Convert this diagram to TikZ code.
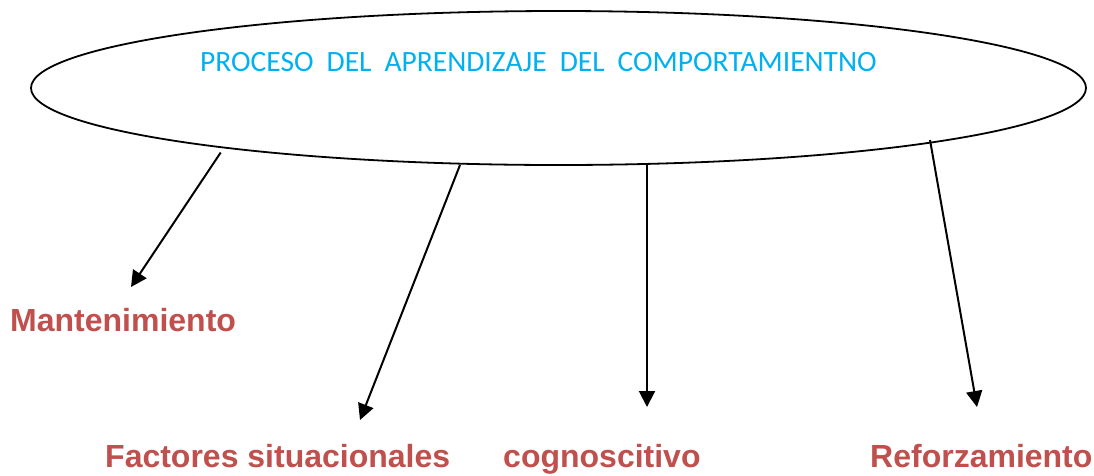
\documentclass[tikz,border=0pt]{standalone}
\usepackage{fontspec}
\setmainfont{Liberation Sans}
\newfontfamily\calib{Carlito}
\usetikzlibrary{shapes.geometric,arrows.meta}
\definecolor{titleblue}{HTML}{00B0F0}
\definecolor{labred}{HTML}{C0504D}
\begin{document}
\begin{tikzpicture}[x=1pt,y=-1pt,
 lab/.style={anchor=base west,inner sep=0,text=labred,font=\fontsize{32}{32}\selectfont\bfseries},
 arr/.style={line width=2pt,-{Triangle[length=16pt,width=16pt]}},
]
\useasboundingbox (0,0) rectangle (1094,475);
\node[ellipse,draw,line width=1.8pt,minimum width=1055pt,minimum height=154pt,inner sep=0] (main) at (558.5,88) {};
\node[anchor=base west,inner sep=0,text=titleblue,font=\calib\fontsize{29.5}{29.5}\selectfont] (title) at (200,71) {PROCESO\hspace{13pt}DEL\hspace{13pt}APRENDIZAJE\hspace{13pt}DEL\hspace{13pt}COMPORTAMIENTNO};
\coordinate (s1) at (220.7,152.5);
\coordinate (t1) at (131,287);
\coordinate (s2) at (460,165);
\coordinate (t2) at (360,420);
\coordinate (s3) at (647,165);
\coordinate (t3) at (647,407);
\coordinate (s4) at (930,140);
\coordinate (t4) at (977,407);
\node[lab] (l1) at (10,331) {Mantenimiento};
\node[lab] (l2) at (105,467) {Factores situacionales};
\node[lab] (l3) at (503,467) {cognoscitivo};
\node[lab] (l4) at (870,467) {Reforzamiento};
\draw[arr] (s1) -- (t1);
\draw[arr] (s2) -- (t2);
\draw[arr] (s3) -- (t3);
\draw[arr] (s4) -- (t4);
\end{tikzpicture}
\end{document}
